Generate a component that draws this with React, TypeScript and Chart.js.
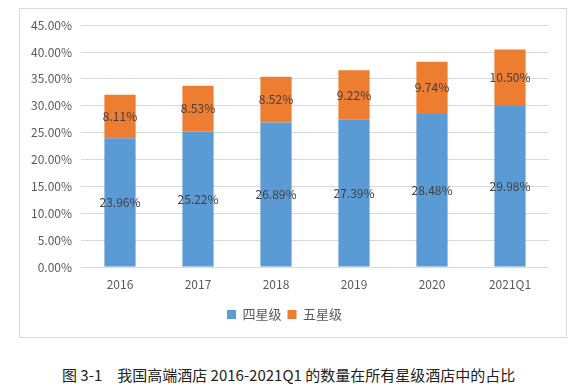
import React, { useEffect, useRef } from "react";
import { Chart, registerables } from "chart.js";

Chart.register(...registerables);

const categories = ["2016", "2017", "2018", "2019", "2020", "2021Q1"];
const fourStar = [23.96, 25.22, 26.89, 27.39, 28.48, 29.98];
const fiveStar = [8.11, 8.53, 8.52, 9.22, 9.74, 10.5];
const seriesNames = ["四星级", "五星级"];
const yTicks = { min: 0, max: 45, step: 5 };
const caption = "图 3-1\u3000我国高端酒店 2016-2021Q1 的数量在所有星级酒店中的占比";

const FONT = "'Noto Sans CJK SC', 'Noto Sans', sans-serif";

const labelPlugin = {
  id: "barLabels",
  afterDatasetsDraw(chart: any) {
    const ctx = chart.ctx;
    ctx.save();
    ctx.font = `12px ${FONT}`;
    ctx.fillStyle = "#404040";
    ctx.textAlign = "center";
    ctx.textBaseline = "middle";
    chart.data.datasets.forEach((ds: any, di: number) => {
      const meta = chart.getDatasetMeta(di);
      meta.data.forEach((bar: any, i: number) => {
        const v = ds.data[i];
        const y = (bar.y + bar.base) / 2;
        ctx.fillText(v.toFixed(2) + "%", bar.x, y);
      });
    });
    ctx.restore();
  },
};

export default function App() {
  const ref = useRef<HTMLCanvasElement>(null);
  useEffect(() => {
    if (!ref.current) return;
    const chart = new Chart(ref.current, {
      type: "bar",
      data: {
        labels: categories,
        datasets: [
          { label: seriesNames[0], data: fourStar, backgroundColor: "#5B9BD5" },
          { label: seriesNames[1], data: fiveStar, backgroundColor: "#ED7D31" },
        ],
      },
      options: {
        responsive: false,
        animation: false,
        events: [],
        layout: { padding: { top: 16, right: 17, bottom: 6, left: 0 } },
        datasets: { bar: { categoryPercentage: 1, barPercentage: 0.4 } } as any,
        scales: {
          x: {
            stacked: true,
            grid: { display: false, drawTicks: false },
            border: { display: false },
            ticks: { color: "#595959", font: { family: FONT, size: 12 }, padding: 10 },
            afterFit: (s: any) => { s.height = 35; },
          },
          y: {
            stacked: true,
            min: yTicks.min,
            max: yTicks.max,
            ticks: {
              stepSize: yTicks.step,
              color: "#595959",
              font: { family: FONT, size: 12 },
              padding: 9,
              callback: (v: any) => Number(v).toFixed(2) + "%",
            },
            grid: { color: "#d9d9d9", drawTicks: false },
            border: { display: false },
            afterFit: (s: any) => { s.width = 61; },
          },
        },
        plugins: {
          legend: {
            position: "bottom",
            labels: {
              boxWidth: 9,
              boxHeight: 9,
              padding: 6,
              color: "#595959",
              font: { family: FONT, size: 13 },
            },
          },
          tooltip: { enabled: false },
        },
      },
      plugins: [labelPlugin],
    });
    return () => chart.destroy();
  }, []);

  return (
    <div style={{ position: "fixed", left: 0, top: 0, width: 585, height: 390, background: "#fff" }}>
      <div
        style={{
          position: "absolute",
          left: 19,
          top: 8,
          width: 546,
          height: 328,
          border: "1px solid #d9d9d9",
        }}
      >
        <canvas ref={ref} width={546} height={328} style={{ display: "block" }} />
      </div>
      <div
        style={{
          position: "absolute",
          left: 62,
          top: 365,
          fontFamily: FONT,
          fontSize: 15,
          lineHeight: "20px",
          color: "#222",
          whiteSpace: "pre",
        }}
      >
        {caption}
      </div>
    </div>
  );
}
